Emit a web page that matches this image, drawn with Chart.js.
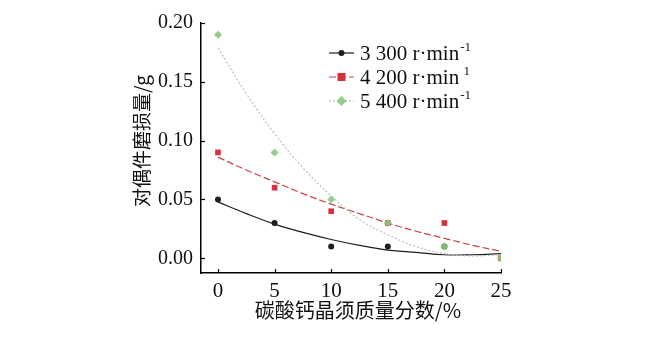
<!DOCTYPE html>
<html>
<head>
<meta charset="utf-8">
<script src="https://cdn.jsdelivr.net/npm/chart.js@4/dist/chart.umd.min.js"></script>
<style>
  html, body { margin: 0; padding: 0; background: #fff; }
  canvas { display: block; }
</style>
</head>
<body>
<canvas id="wearChart" width="649" height="343"></canvas>
<script>
// whisker content (%) and measured wear of the counterpart (g)
const whiskerPct = [0, 5, 10, 15, 20, 25];
const wear3300 = [0.05, 0.03, 0.01, 0.01, 0.01, 0.00];
const wear4200 = [0.09, 0.06, 0.04, 0.03, 0.03, 0.00];
const wear5400 = [0.19, 0.09, 0.05, 0.03, 0.01, 0.00];

// fitted trend lines, sampled along the x axis
const fitX = [0, 2.5, 5, 7.5, 10, 12.5, 15, 17.5, 20, 22.5, 25];
const fit3300 = [0.048, 0.038, 0.029, 0.022, 0.016, 0.011, 0.007, 0.005, 0.003, 0.003, 0.004];
const fit4200 = [0.086, 0.075, 0.065, 0.055, 0.046, 0.038, 0.030, 0.023, 0.017, 0.011, 0.006];
const fit5400 = [0.179, 0.140, 0.106, 0.077, 0.053, 0.033, 0.020, 0.010, 0.004, 0.002, 0.003];

const xTicks = [0, 5, 10, 15, 20, 25];
const yTicks = [0, 0.05, 0.10, 0.15, 0.20];

const seriesLabels = ['3 300 r\u00b7min', '4 200 r\u00b7min', '5 400 r\u00b7min'];
const seriesSup = ['-1', ' 1', '-1'];

const serif = '"Liberation Serif", "DejaVu Serif", serif';
const cjk = '"Noto Sans CJK SC", sans-serif';

function pts(xs, ys) {
  return xs.map((x, i) => ({ x: x, y: ys[i] }));
}

const series = [
  { color: '#1e1e1e', lineColor: '#1e1e1e', dash: [], style: 'circle', r: 3, pts: wear3300, fit: fit3300 },
  { color: '#d8303c', lineColor: '#c8454c', dash: [7, 3], style: 'rect', r: 4, pts: wear4200, fit: fit4200 },
  { color: 'rgba(140,200,128,0.9)', lineColor: '#b4c6ae', dash: [2, 2], style: 'rectRot', r: 4, pts: wear5400, fit: fit5400 }
];

const datasets = [];
series.forEach((s, i) => {
  datasets.push({
    label: seriesLabels[i],
    data: pts(whiskerPct, s.pts),
    showLine: false,
    pointStyle: s.style,
    pointRadius: s.r,
    pointBackgroundColor: s.color,
    pointBorderColor: s.color,
    pointBorderWidth: 0,
    order: 2 - i
  });
});
series.forEach((s, i) => {
  datasets.push({
    label: seriesLabels[i] + ' fit',
    data: pts(fitX, s.fit),
    showLine: true,
    tension: 0.4,
    pointRadius: 0,
    borderColor: s.lineColor,
    borderWidth: 1.2,
    borderDash: s.dash,
    order: 5 - i
  });
});

// ticks pointing into the plot area, plus axis titles and legend
const decorations = {
  id: 'decorations',
  afterDraw(chart) {
    const ctx = chart.ctx;
    const xs = chart.scales.x, ys = chart.scales.y;
    const area = chart.chartArea;
    ctx.save();
    ctx.strokeStyle = '#000';
    ctx.lineWidth = 1.2;
    xTicks.forEach(v => {
      const px = Math.round(xs.getPixelForValue(v)) + 0.5;
      ctx.beginPath();
      ctx.moveTo(px, area.bottom);
      ctx.lineTo(px, area.bottom - 4);
      ctx.stroke();
    });
    yTicks.forEach(v => {
      const py = Math.round(ys.getPixelForValue(v)) + 0.5;
      ctx.beginPath();
      ctx.moveTo(area.left, py);
      ctx.lineTo(area.left + 4, py);
      ctx.stroke();
    });

    // axis titles
    ctx.fillStyle = '#111';
    ctx.font = '20px ' + cjk;
    ctx.textAlign = 'center';
    ctx.textBaseline = 'middle';
    ctx.fillText('碳酸钙晶须质量分数/%', 358, 310);
    ctx.save();
    ctx.translate(142, 141);
    ctx.rotate(-Math.PI / 2);
    ctx.font = '19px ' + cjk;
    ctx.fillText('对偶件磨损量/g', 0, 0);
    ctx.restore();

    // legend
    const rowY = [53, 77, 101];
    series.forEach((s, i) => {
      const y = rowY[i];
      ctx.strokeStyle = s.lineColor;
      ctx.lineWidth = 1.2;
      ctx.setLineDash(s.dash);
      ctx.beginPath();
      ctx.moveTo(329, y);
      ctx.lineTo(354, y);
      ctx.stroke();
      ctx.setLineDash([]);
      ctx.fillStyle = s.color;
      ctx.beginPath();
      if (s.style === 'circle') {
        ctx.arc(341.5, y, s.r, 0, Math.PI * 2);
      } else if (s.style === 'rect') {
        ctx.rect(341.5 - s.r, y - s.r, s.r * 2, s.r * 2);
      } else {
        ctx.moveTo(341.5, y - s.r - 1);
        ctx.lineTo(341.5 + s.r + 1, y);
        ctx.lineTo(341.5, y + s.r + 1);
        ctx.lineTo(341.5 - s.r - 1, y);
        ctx.closePath();
      }
      ctx.fill();

      ctx.fillStyle = '#111';
      ctx.textAlign = 'left';
      ctx.textBaseline = 'middle';
      ctx.font = '21px ' + serif;
      ctx.fillText(seriesLabels[i], 360, y + 1);
      const w = ctx.measureText(seriesLabels[i]).width;
      ctx.font = '13px ' + serif;
      ctx.fillText(seriesSup[i], 360 + w + 1, y - 5);
    });
    ctx.restore();
  }
};

new Chart(document.getElementById('wearChart'), {
  type: 'scatter',
  data: { datasets: datasets },
  options: {
    responsive: false,
    animation: false,
    layout: { padding: { left: 0, right: 148, top: 23, bottom: 0 } },
    plugins: {
      legend: { display: false },
      tooltip: { enabled: false }
    },
    scales: {
      x: {
        type: 'linear',
        min: -1.5,
        max: 25,
        afterBuildTicks: scale => { scale.ticks = xTicks.map(v => ({ value: v })); },
        afterFit: scale => { scale.height = 70; },
        grid: { display: false, drawTicks: false },
        border: { display: true, color: '#000', width: 1.5 },
        ticks: {
          padding: 6,
          color: '#111',
          font: { family: serif, size: 21 },
          maxRotation: 0,
          callback: v => String(v)
        }
      },
      y: {
        type: 'linear',
        min: -0.0125,
        max: 0.2,
        afterBuildTicks: scale => { scale.ticks = yTicks.map(v => ({ value: v })); },
        afterFit: scale => { scale.width = 201; },
        grid: { display: false, drawTicks: false },
        border: { display: true, color: '#000', width: 1.5 },
        ticks: {
          padding: 8,
          color: '#111',
          font: { family: serif, size: 20 },
          callback: v => v.toFixed(2)
        }
      }
    }
  },
  plugins: [decorations]
});
</script>
</body>
</html>
